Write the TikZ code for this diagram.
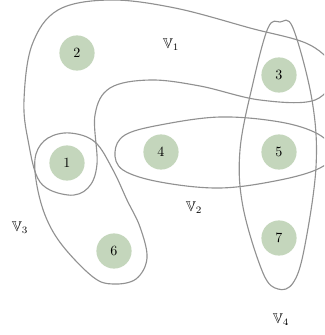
\documentclass[tikz,border=0pt]{standalone}
\usepackage{amsmath}
\usepackage{amssymb}
\usepackage{tikz}
\usetikzlibrary{positioning}

\definecolor{vertexgreen}{RGB}{196,214,188}
\definecolor{edgegray}{RGB}{145,145,145}

\begin{document}
\begin{tikzpicture}[
    x=0.025cm,y=-0.025cm,
    vertex/.style={circle, fill=vertexgreen, minimum size=0.88cm, inner sep=0pt},
    hedge/.style={draw=edgegray, line width=0.8pt},
    hlabel/.style={inner sep=1pt}
  ]
    \useasboundingbox (0,0) rectangle (324,335);
    \clip (0,0) rectangle (324,335);

    % hyperedges
    \draw[hedge] plot[smooth cycle, tension=0.6] coordinates {
      (68,195) (40,182) (28,140) (24,100) (32,45) (58,10) (110,0) (175,8)
      (250,28) (310,45) (334,72) (315,100) (260,100) (200,86) (150,80)
      (110,88) (95,115) (97,164) (88,188)};
    \draw[hedge] plot[smooth cycle, tension=0.6] coordinates {
      (115,152) (125,135) (160,125) (220,117) (280,122) (318,134) (334,152)
      (320,168) (280,180) (220,188) (160,182) (123,170)};
    \draw[hedge] plot[smooth cycle, tension=0.6] coordinates {
      (70,133) (95,142) (113,170) (127,200) (140,227) (147,258) (136,279)
      (113,284) (93,277) (62,245) (45,215) (36,180) (36,154) (48,138)};
    \draw[hedge] plot[smooth cycle, tension=0.6] coordinates {
      (280,22) (268,28) (253,83) (240,150) (243,207) (263,273) (278,289)
      (293,283) (304,250) (316,167) (312,100) (293,28)};

    % vertices
    \node[vertex] (n1) at (67,163) {1};
    \node[vertex] (n2) at (77,53) {2};
    \node[vertex] (n3) at (279,75) {3};
    \node[vertex] (n4) at (161,152) {4};
    \node[vertex] (n5) at (279,152) {5};
    \node[vertex] (n6) at (114,251) {6};
    \node[vertex] (n7) at (279,238) {7};

    % hyperedge labels
    \node[hlabel] (lblV1) at (171,45) {$\mathbb{V}_1$};
    \node[hlabel] (lblV2) at (194,208) {$\mathbb{V}_2$};
    \node[hlabel] (lblV3) at (20,228) {$\mathbb{V}_3$};
    \node[hlabel] (lblV4) at (281,320) {$\mathbb{V}_4$};
  \end{tikzpicture}
\end{document}
